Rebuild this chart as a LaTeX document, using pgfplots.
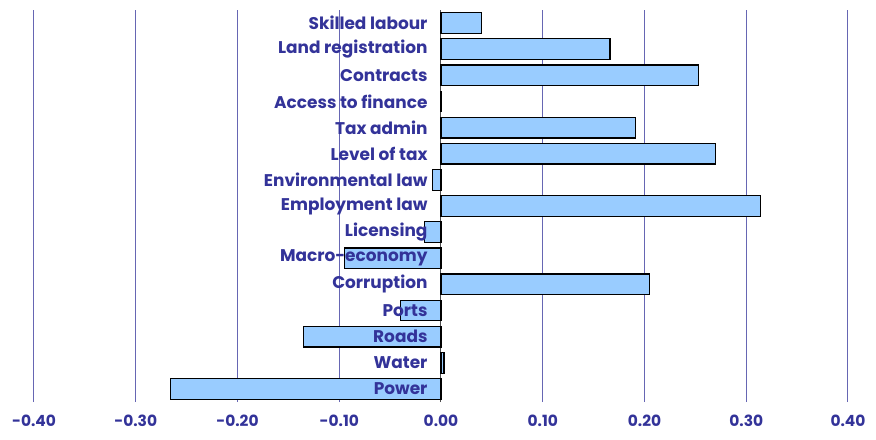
\documentclass[border=0pt]{standalone}
\usepackage{fontspec}
\setmainfont{Poppins}
\usepackage{pgfplots}
\usepackage{pgfplotstable}
\pgfplotsset{compat=1.18}
\definecolor{navy}{HTML}{333399}
\definecolor{gridc}{HTML}{6666B3}
\definecolor{barfill}{HTML}{99CCFF}

\pgfplotstableread[col sep=comma]{
pos,value,label
15,0.040,Skilled labour
14,0.166,Land registration
13,0.253,Contracts
12,0.000,Access to finance
11,0.191,Tax admin
10,0.270,Level of tax
9,-0.008,Environmental law
8,0.314,Employment law
7,-0.016,Licensing
6,-0.095,Macro-economy
5,0.205,Corruption
4,-0.040,Ports
3,-0.135,Roads
2,0.003,Water
1,-0.266,Power
}\constraints

\begin{document}
\begin{tikzpicture}
\begin{axis}[at={(0,0)},anchor=south west,scale only axis,
width=814bp,height=392bp,
xmin=-0.4,xmax=0.4,ymin=0.5,ymax=15.5,
axis x line=bottom,axis y line=center,
x axis line style={draw=none},
y axis line style={draw=black!70,line width=1bp,-},
xtick={-0.4,-0.3,-0.2,-0.1,0,0.1,0.2,0.3,0.4},
xticklabels={-0.40,-0.30,-0.20,-0.10,0.00,0.10,0.20,0.30,0.40},
xtick style={draw=none},
xmajorgrids=true,
grid style={gridc,line width=1bp},
ytick=\empty,
minor ytick={0.5,1.5,...,15.5},
minor tick length=5bp,
minor tick style={black!70,line width=0.8bp},
tick align=outside,
xticklabel style={font=\fontsize{15.5}{17}\selectfont\bfseries,text=navy,anchor=north,yshift=-5bp},
clip=false]
\addplot[xbar,bar width=0.79,fill=barfill,draw=black,line width=1.2bp] table[x=value,y=pos] {\constraints};
\addplot[draw=none,mark=none,nodes near coords,point meta=explicit symbolic,
  nodes near coords style={anchor=east,xshift=-10bp,font=\fontsize{17}{19}\selectfont\bfseries,text=navy}]
  table[x expr=0,y=pos,meta=label] {\constraints};
\end{axis}
\pgfresetboundingbox
\path (-34bp,-38bp) rectangle (842bp,402bp);
\end{tikzpicture}
\end{document}
